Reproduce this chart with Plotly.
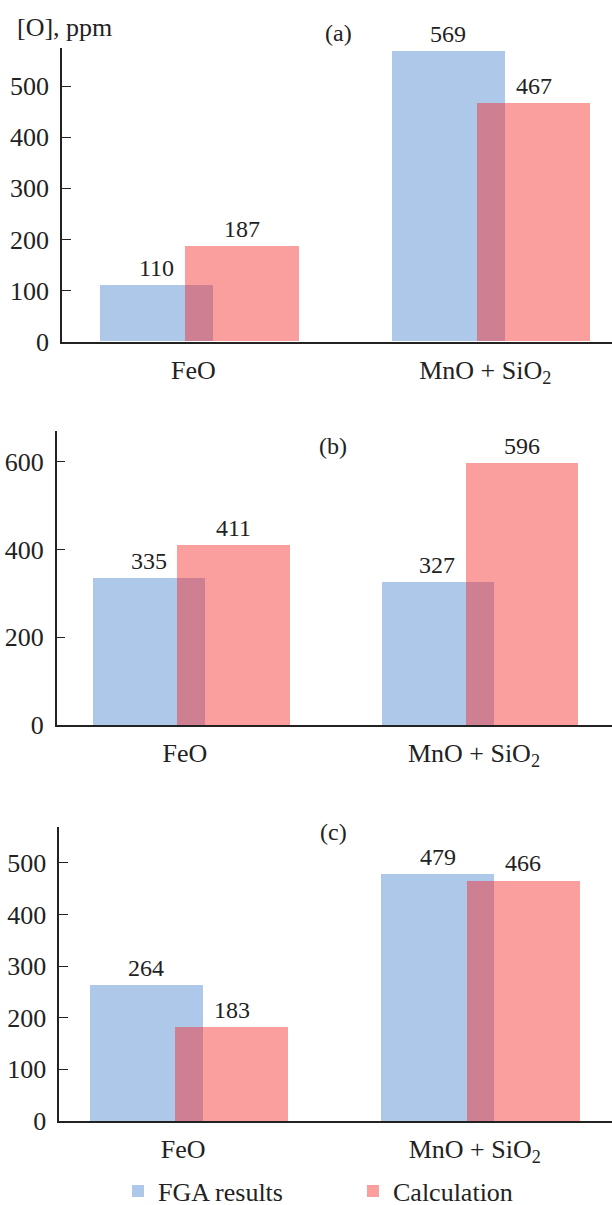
import plotly.graph_objects as go

# ---------------- data ----------------
categories = ["FeO", "MnO + SiO<sub>2</sub>"]
series_names = ["FGA results", "Calculation"]

fga_a = [110, 569]
calc_a = [187, 467]
fga_b = [335, 327]
calc_b = [411, 596]
fga_c = [264, 479]
calc_c = [183, 466]

panel_labels = ["(a)", "(b)", "(c)"]
y_title = "[O], ppm"
yticks_a = [0, 100, 200, 300, 400, 500]
yticks_b = [0, 200, 400, 600]
yticks_c = [0, 100, 200, 300, 400, 500]

# ---------------- style ----------------
W, H = 612, 1205
FONT = "Liberation Serif"
TXT = "#222222"
BLUE = "rgb(174,200,234)"
RED = "rgba(246,40,40,0.45)"
BAR_W = 0.388
OFF_BLUE = -0.341
OFF_RED = -0.048

panels = [
    dict(fga=fga_a, calc=calc_a, ticks=yticks_a, label=panel_labels[0],
         x0=62, top=48.3, base=341.6, yr=[0, 574], xr=[-0.471, 1.414],
         lab=(338, 33)),
    dict(fga=fga_b, calc=calc_b, ticks=yticks_b, label=panel_labels[1],
         x0=56.7, top=431, base=725, yr=[0, 670], xr=[-0.4647, 1.457],
         lab=(333, 446)),
    dict(fga=fga_c, calc=calc_c, ticks=yticks_c, label=panel_labels[2],
         x0=59.3, top=826.7, base=1121, yr=[0, 570], xr=[-0.4456, 1.450],
         lab=(334, 832)),
]

fig = go.Figure()
annotations = []
layout_axes = {}

for i, p in enumerate(panels):
    n = "" if i == 0 else str(i + 1)
    xa, ya = "x" + n, "y" + n
    fig.add_trace(go.Bar(
        x=categories, y=p["fga"], name=series_names[0], marker_color=BLUE,
        marker_line_width=0, width=BAR_W, offset=OFF_BLUE,
        xaxis=xa, yaxis=ya, showlegend=(i == 0), legendgroup="fga"))
    fig.add_trace(go.Bar(
        x=categories, y=p["calc"], name=series_names[1], marker_color=RED,
        marker_line_width=0, width=BAR_W, offset=OFF_RED,
        xaxis=xa, yaxis=ya, showlegend=(i == 0), legendgroup="calc"))

    for vals, off in ((p["fga"], OFF_BLUE), (p["calc"], OFF_RED)):
        for k, v in enumerate(vals):
            annotations.append(dict(
                x=k + off + BAR_W / 2, y=v, xref=xa, yref=ya, text=str(v),
                showarrow=False, yanchor="bottom", xanchor="center", yshift=2,
                font=dict(family=FONT, size=24, color=TXT)))

    annotations.append(dict(
        x=p["lab"][0] / W, y=1 - p["lab"][1] / H, xref="paper", yref="paper",
        text=p["label"], showarrow=False, xanchor="center", yanchor="middle",
        font=dict(family=FONT, size=24, color=TXT)))

    layout_axes["xaxis" + n] = dict(
        domain=[p["x0"] / W, 1], range=p["xr"], type="category",
        anchor=ya, showline=True, linecolor=TXT, linewidth=1.5,
        ticks="", showgrid=False, zeroline=False, ticklabelshift=-6,
        tickfont=dict(family=FONT, size=26, color=TXT), ticklabelstandoff=4)
    layout_axes["yaxis" + n] = dict(
        domain=[1 - p["base"] / H, 1 - p["top"] / H], range=p["yr"],
        anchor=xa, showline=True, linecolor=TXT, linewidth=1.5,
        ticks="inside", ticklen=9, tickwidth=1.3, tickcolor=TXT,
        tickvals=p["ticks"], showgrid=False, zeroline=False,
        tickfont=dict(family=FONT, size=26, color=TXT), ticklabelstandoff=6)

annotations.append(dict(
    x=15 / W, y=1 - 27 / H, xref="paper", yref="paper", text=y_title,
    showarrow=False, xanchor="left", yanchor="middle",
    font=dict(family=FONT, size=26, color=TXT)))

fig.update_layout(
    width=W, height=H, margin=dict(l=0, r=0, t=0, b=0, autoexpand=False),
    paper_bgcolor="white", plot_bgcolor="white",
    barmode="overlay", bargap=0,
    annotations=annotations,
    legend=dict(orientation="h", x=118 / W, xanchor="left",
                yref="container", y=1 - 1191 / H, yanchor="middle",
                font=dict(family=FONT, size=26, color=TXT),
                entrywidth=190, bgcolor="rgba(0,0,0,0)"),
    **layout_axes,
)

fig.write_html("out.html", config={"displayModeBar": False},
               post_script="document.body.style.margin='0';")
